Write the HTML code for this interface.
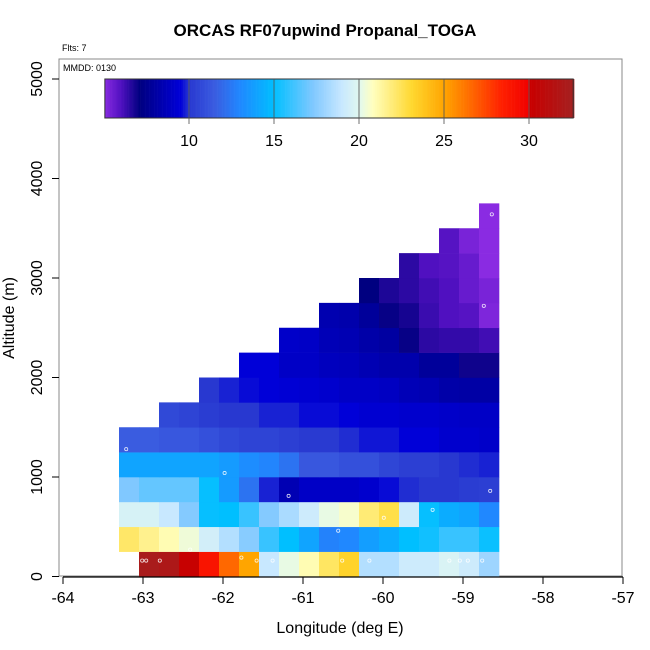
<!DOCTYPE html>
<html><head><meta charset="utf-8"><style>
html,body{margin:0;padding:0;background:#fff;}
svg{display:block;font-family:"Liberation Sans",sans-serif;}
</style></head><body>
<svg id="chart" width="650" height="650" viewBox="0 0 650 650">
<text x="325" y="36" text-anchor="middle" font-size="17" font-weight="bold">ORCAS RF07upwind Propanal_TOGA</text>
<text x="62" y="51" font-size="9">Flts: 7</text>
<rect x="59" y="59" width="563" height="517" fill="none" stroke="#888" stroke-width="1"/>
<text x="63" y="71" font-size="9">MMDD: 0130</text>
<g id="cells"></g>
<g id="pts"></g>
<g id="cbar"></g>
<g id="axes"></g>
<text x="340" y="633" text-anchor="middle" font-size="16">Longitude (deg E)</text>
<text transform="translate(14,318) rotate(-90)" text-anchor="middle" font-size="16">Altitude (m)</text>
</svg>
<script>
const lonStart = -63.3;
const cellLon = 0.25;
const cellAlt = 250;
// rows from altitude 0 upward; null = no data. 19 columns each.
const row0 = [null,32.3,32,30.2,29,26.6,25,19,20.2,21,22.3,23.3,18.5,18.5,19.2,19.2,19.7,19.2,18];
const row1 = [22.2,21.6,21,20.4,19.4,18.5,17.5,16,15,14,12.8,13,13.8,14.3,15,15.3,16,16,15.2];
const row2 = [19.6,19.6,19,17.4,15.1,15,16,17.4,18.3,19.2,20.2,20.6,22,22.7,19.2,15.1,14.3,14,13];
const row3 = [17.3,16.8,16.8,16.8,15.1,13.7,12.3,9.8,8.5,9,9,9,9.2,9.6,9.9,10,10,10.2,10.3];
const row4 = [14,14,14,14,14,13.7,13.2,12.9,12.3,11.3,11.3,11,11,10.6,10.3,10.3,10,9.9,9.8];
const row5 = [11.5,11.5,11.3,11.3,11,10.7,10.5,10.5,10.3,10.1,10.1,9.9,9.7,9.7,9.5,9.5,9.2,9.2,9.1];
const row6 = [null,null,10.7,10.5,10.2,10,10,9.8,9.8,9.6,9.6,9.5,9.3,9.3,9.2,9.2,9.1,9,9];
const row7 = [null,null,null,null,10,9.8,9.6,9.5,9.4,9.3,9.2,9,9,8.9,8.6,8.5,8.2,8.1,8.1];
const row8 = [null,null,null,null,null,null,9.5,9.5,9,9,8.8,8.7,8.5,8.3,8.3,7.8,7.8,6.9,6.9];
const row9 = [null,null,null,null,null,null,null,null,9.1,9,8.6,8.5,8.2,8,7,6.5,6.4,6.4,6.2];
const row10 = [null,null,null,null,null,null,null,null,null,null,8.4,8.3,7.8,7,6.8,6.3,6,5.9,5.2];
const row11 = [null,null,null,null,null,null,null,null,null,null,null,null,7.1,6.7,6.5,6.2,6,5.6,5.3];
const row12 = [null,null,null,null,null,null,null,null,null,null,null,null,null,null,6.5,6,5.9,5.6,5];
const row13 = [null,null,null,null,null,null,null,null,null,null,null,null,null,null,null,null,5.9,5.3,5];
const row14 = [null,null,null,null,null,null,null,null,null,null,null,null,null,null,null,null,null,null,5];
const rows = [row0,row1,row2,row3,row4,row5,row6,row7,row8,row9,row10,row11,row12,row13,row14];
const ptLon = [-63.21,-61.98,-61.18,-60.56,-59.99,-59.38,-58.66,-58.64,-58.74,-63.01,-62.96,-62.79,-61.77,-61.58,-61.38,-60.51,-60.17,-59.17,-59.04,-58.94,-58.76,-62.41];
const ptAlt = [1280,1040,810,460,590,670,860,3640,2720,160,160,160,190,160,160,160,160,160,160,160,160,270];
const xTicks = [-64,-63,-62,-61,-60,-59,-58,-57];
const yTicks = [0,1000,2000,3000,4000,5000];
const cbTicks = [10,15,20,25,30];
const cbMin = 5.05, cbMax = 32.6;
const stopV = [5,6,7.1,9.5,10,11.5,13,15,17.3,19,20,20.8,23.1,25,26.4,28.4,30,30.1,32.6];
const stopC = ["#8a2be2","#5010c0","#000080","#0000d8","#2838d0","#3a5ce0","#2088ff","#00bfff","#80c8ff","#c8e8ff","#e0f8f0","#ffffc0","#ffd830","#ffa500","#ff7000","#ff2000","#f00000","#c80000","#a52020"];

const xs = lon => 63 + (lon + 64) * 80;
const ys = alt => 576.5 - alt * 0.0995;
function hex(c){return [1,3,5].map(i=>parseInt(c.substr(i,2),16));}
function cmap(v){
  if(v<=stopV[0]) return stopC[0];
  for(let i=1;i<stopV.length;i++){
    if(v<=stopV[i]){
      const t=(v-stopV[i-1])/(stopV[i]-stopV[i-1]);
      const a=hex(stopC[i-1]), b=hex(stopC[i]);
      return 'rgb('+a.map((x,k)=>Math.round(x+(b[k]-x)*t)).join(',')+')';
    }
  }
  return stopC[stopC.length-1];
}
const NS='http://www.w3.org/2000/svg';
function mk(tag, attrs, parent){const e=document.createElementNS(NS,tag);for(const k in attrs)e.setAttribute(k,attrs[k]);parent.appendChild(e);return e;}

const cells=document.getElementById('cells');
rows.forEach((row,r)=>{
  row.forEach((v,c)=>{
    if(v===null) return;
    const l=lonStart+c*cellLon, a=r*cellAlt;
    const x0=xs(l), x1=xs(l+cellLon), y0=ys(a+cellAlt), y1=ys(a);
    const e=mk('rect',{x:x0,y:y0,width:x1-x0+0.3,height:y1-y0+0.3,fill:cmap(v)},cells);
    
    
  });
});
const pts=document.getElementById('pts');
ptLon.forEach((l,i)=>{
  const e=mk('circle',{cx:xs(l),cy:ys(ptAlt[i]),r:1.6,fill:'none',stroke:'#fff','stroke-width':0.8,opacity:0.85},pts);
  
  
});
// colorbar
const cb=document.getElementById('cbar');
const cbx = v => 189 + (v-10)*17;
for(let v=cbMin; v<cbMax; v+=0.1){
  const e=mk('rect',{x:cbx(v),y:79,width:17*0.1+0.3,height:39,fill:cmap(v+0.05)},cb);
  
  
}
const cbBorder=mk('rect',{x:cbx(cbMin),y:79,width:cbx(cbMax)-cbx(cbMin),height:39,fill:'none',stroke:'#333','stroke-width':1},cb);


cbTicks.forEach(t=>{
  const ln=mk('line',{x1:cbx(t),x2:cbx(t),y1:79,y2:124,stroke:'#555','stroke-width':1.2,opacity:0.7},cb);
  
  
  const tx=mk('text',{x:cbx(t),y:146,'text-anchor':'middle','font-size':16},cb);
  tx.textContent=t;
  
  
});
// axes
const ax=document.getElementById('axes');
const xl=mk('line',{x1:xs(-64),x2:xs(-57),y1:577,y2:577,stroke:'#000','stroke-width':1.2},ax);


xTicks.forEach(t=>{
  const ln=mk('line',{x1:xs(t),x2:xs(t),y1:577,y2:584,stroke:'#000','stroke-width':1},ax);
  
  
  const tx=mk('text',{x:xs(t),y:603,'text-anchor':'middle','font-size':16},ax);
  tx.textContent=t;
  
  
});
yTicks.forEach(t=>{
  const ln=mk('line',{x1:52,x2:59,y1:ys(t),y2:ys(t),stroke:'#000','stroke-width':1},ax);
  
  
  const tx=mk('text',{transform:'translate(42,'+ys(t)+') rotate(-90)','text-anchor':'middle','font-size':16},ax);
  tx.textContent=t;
  
  
});
</script>
</body></html>
